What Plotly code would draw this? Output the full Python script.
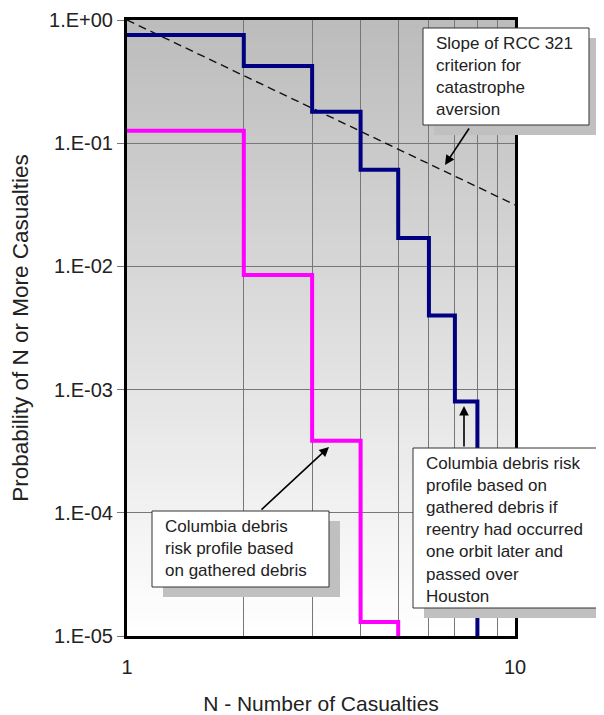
import plotly.graph_objects as go

# ---- data ----
N_houston = [1, 2, 3, 4, 5, 6, 7, 8]
P_houston = [0.755, 0.424, 0.18, 0.061, 0.017, 0.004, 0.0008, 1e-6]

N_gathered = [1, 2, 3, 4, 5]
P_gathered = [0.126, 0.0085, 0.000385, 1.3e-5, 1e-6]

N_slope = [1, 10]
P_slope = [1.0, 0.0316]

y_tickvals = [1e-5, 1e-4, 1e-3, 1e-2, 1e-1, 1]
y_ticktext = ["1.E-05", "1.E-04", "1.E-03", "1.E-02", "1.E-01", "1.E+00"]
x_tickvals = [1, 2, 3, 4, 5, 6, 7, 8, 9, 10]
x_ticktext = ["1", "", "", "", "", "", "", "", "", "10"]

# ---- layout geometry (absolute page px; page body has an 8px margin) ----
OFF = 8
W, H = 604 - OFF, 715 - OFF
L, R, T, B = 127, 515, 20, 636
PW, PH = R - L, B - T

def px(xp):
    return (xp - L) / PW

def py(yp):
    return (B - yp) / PH

FONT = "Arial, Liberation Sans, sans-serif"
TXT = "#222222"

fig = go.Figure()

fig.add_trace(go.Scatter(x=N_slope, y=P_slope, mode="lines",
                         line=dict(color="#111111", width=1.4, dash="8px,5px"),
                         showlegend=False))
fig.add_trace(go.Scatter(x=N_houston, y=P_houston, mode="lines", line_shape="hv",
                         line=dict(color="#000080", width=4), showlegend=False))
fig.add_trace(go.Scatter(x=N_gathered, y=P_gathered, mode="lines", line_shape="hv",
                         line=dict(color="#ff00ff", width=4), showlegend=False))

# background gradient (gray at top -> white at bottom)
shapes = []
nb = 80
for i in range(nb):
    f = i / (nb - 1)  # 0 bottom -> 1 top
    v = int(round(255 - (255 - 188) * f))
    shapes.append(dict(type="rect", xref="x domain", yref="y domain",
                       x0=0, x1=1, y0=i / nb, y1=(i + 1) / nb + 0.002,
                       fillcolor=f"rgb({v},{v},{v})", line=dict(width=0),
                       layer="below"))

# text boxes with drop shadows
boxes = [
    # (x0, y0, x1, y1) in px, text
    ((423, 28, 589, 125), "Slope of RCC 321<br>criterion for<br>catastrophe<br>aversion"),
    ((413, 448, 600, 608), "Columbia debris risk<br>profile based on<br>gathered debris if<br>reentry had occurred<br>one orbit later and<br>passed over<br>Houston"),
    ((152, 511, 329, 587), "Columbia debris<br>risk profile based<br>on gathered debris"),
]
annotations = []
for (x0, y0, x1, y1), text in boxes:
    shapes.append(dict(type="rect", xref="paper", yref="paper",
                       x0=px(x0 + 11), x1=px(x1 + 11), y0=py(y1 + 10), y1=py(y0 + 10),
                       fillcolor="rgb(192,192,192)", line=dict(width=0),
                       layer="above"))
    shapes.append(dict(type="rect", xref="paper", yref="paper",
                       x0=px(x0), x1=px(x1), y0=py(y1), y1=py(y0),
                       fillcolor="white", line=dict(width=1, color="#333333"),
                       layer="above"))
    annotations.append(dict(xref="paper", yref="paper", x=px(x0 + 12), y=py(y0 + 5),
                            xanchor="left", yanchor="top", showarrow=False,
                            text=text, align="left", borderpad=0,
                            font=dict(family=FONT, size=17, color=TXT)))

# arrows: (tip px, tail px)
arrows = [((445, 165), (470, 127)),
          ((464, 406), (464, 448)),
          ((329, 447), (260, 511))]
for (tx, ty), (sx, sy) in arrows:
    annotations.append(dict(xref="paper", yref="paper", x=px(tx), y=py(ty),
                            ax=sx - tx, ay=sy - ty, text="", showarrow=True,
                            arrowhead=2, arrowsize=1.2, arrowwidth=1.6,
                            arrowcolor="black"))

fig.update_layout(
    width=W, height=H,
    margin=dict(l=L - OFF, r=604 - R, t=T - OFF, b=715 - B, autoexpand=False),
    paper_bgcolor="white", plot_bgcolor="rgba(0,0,0,0)",
    font=dict(family=FONT, size=20, color=TXT),
    shapes=shapes, annotations=annotations,
)
fig.update_xaxes(type="log", range=[0, 1], tickvals=x_tickvals, ticktext=x_ticktext,
                 automargin=False,
                 showgrid=True, gridcolor="#777777", gridwidth=1,
                 showline=True, linecolor="black", linewidth=3, mirror=True,
                 ticks="", ticklabelstandoff=11, zeroline=False,
                 title=dict(text="N - Number of Casualties", standoff=28,
                            font=dict(size=21, color=TXT)),
                 tickfont=dict(size=20, color=TXT))
fig.update_yaxes(type="log", range=[-5, 0], tickvals=y_tickvals, ticktext=y_ticktext,
                 automargin=False,
                 showgrid=True, gridcolor="#777777", gridwidth=1,
                 showline=True, linecolor="black", linewidth=3, mirror=True,
                 ticks="outside", ticklen=7, tickcolor="#777777", zeroline=False,
                 title=dict(text="Probability of N or More Casualties", standoff=15,
                            font=dict(size=22.5, color=TXT)),
                 tickfont=dict(size=20, color=TXT))

fig.write_html("out.html")
